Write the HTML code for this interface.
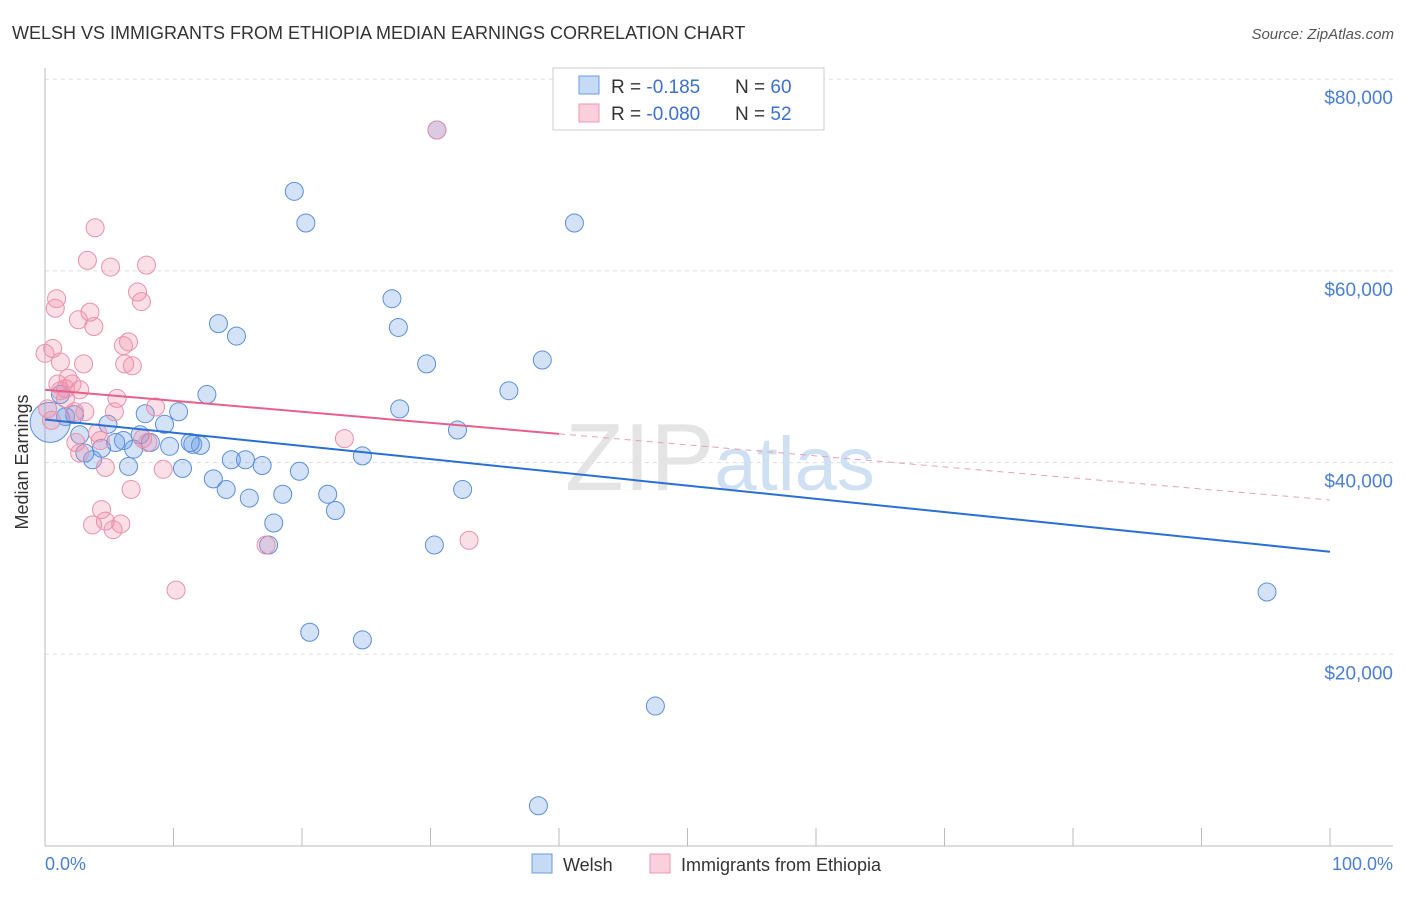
<!DOCTYPE html>
<html><head><meta charset="utf-8"><style>
body{margin:0;background:#fff;font-family:"Liberation Sans",sans-serif;}
svg text{font-family:"Liberation Sans",sans-serif;}
</style></head><body>
<svg width="1406" height="892" viewBox="0 0 1406 892" xmlns="http://www.w3.org/2000/svg">
<text x="12" y="39" font-size="18" fill="#333">WELSH VS IMMIGRANTS FROM ETHIOPIA MEDIAN EARNINGS CORRELATION CHART</text>
<text x="1394" y="39" font-size="15" fill="#555" text-anchor="end" font-style="italic">Source: ZipAtlas.com</text>
<g id="grid"></g>
<text x="720" y="490" font-size="96" fill="#e4e4e4" text-anchor="middle" font-family="Liberation Serif">ZIP<tspan fill="#cfe0f3" font-family="Liberation Sans" font-size="76">atlas</tspan></text>
<line x1="45" y1="68" x2="45" y2="846" stroke="#bbb"/>
<line x1="45" y1="846" x2="1393" y2="846" stroke="#bbb"/>
<g id="ticks"></g>
<text x="22" y="456" font-size="18" fill="#333" text-anchor="middle" transform="rotate(-90 28 456)">Median Earnings</text>
<text x="45" y="870" font-size="18" fill="#4a7fd6">0.0%</text>
<text x="1393" y="870" font-size="18" fill="#4a7fd6" text-anchor="end">100.0%</text>
<g id="pts"></g>
<g id="lines"></g>
<g>
<rect x="553" y="68" width="271" height="62" fill="#fff" stroke="#ccc"/>
<rect x="579" y="76" width="20" height="18" fill="#c5dbf5" stroke="#6b9be0"/>
<rect x="579" y="104" width="20" height="18" fill="#fbd0dc" stroke="#eb98b2"/>
<text x="611" y="93" font-size="19" fill="#333">R = <tspan fill="#3a70d0"> -0.185</tspan><tspan x="735">N = </tspan><tspan fill="#3a70d0">60</tspan></text>
<text x="611" y="120" font-size="19" fill="#333">R = <tspan fill="#3a70d0">-0.080</tspan><tspan x="735">N = </tspan><tspan fill="#3a70d0"> 52</tspan></text>
</g>
<g>
<rect x="532" y="854" width="20" height="19" fill="#c5dbf5" stroke="#6b9be0"/>
<text x="563" y="871" font-size="18" fill="#333">Welsh</text>
<rect x="650" y="854" width="20" height="19" fill="#fbd0dc" stroke="#eb98b2"/>
<text x="681" y="871" font-size="18" fill="#333">Immigrants from Ethiopia</text>
</g>
</svg>
<script>
const yTicks=[20000,40000,60000,80000];
const yTickLabels=["$20,000","$40,000","$60,000","$80,000"];
const welshX=[30.5,19.4,20.3,41.2,13.5,14.9,27.0,27.5,38.7,29.7,36.1,12.6,27.6,32.1,10.4,7.8,9.3,4.9,1.2,1.6,2.3,0.4,2.7,6.1,7.4,8.2,4.4,3.7,11.5,12.1,11.3,9.7,6.9,14.5,15.6,24.7,16.9,19.8,10.7,6.5,13.1,14.1,15.9,18.5,22.0,22.6,32.5,17.8,17.4,30.3,20.6,24.7,95.1,47.5,38.4,3.1,5.5];
const welshY=[74700,68300,65000,65000,54500,53200,57100,54100,50700,50300,47500,47100,45600,43400,45300,45100,44000,44000,47100,44800,45000,44200,42900,42300,42900,42100,41500,40300,41900,41800,42100,41700,41400,40300,40300,40700,39700,39100,39400,39600,38300,37200,36300,36700,36700,35000,37200,33700,31400,31400,22300,21500,26500,14600,4200,41000,42100];
const ethX=[30.5,3.9,3.3,5.1,7.9,0.9,0.8,7.2,7.5,3.5,2.6,3.8,6.5,6.1,0.6,1.2,6.2,6.8,3.0,1.8,2.1,1.2,1.6,0.2,3.1,2.3,5.6,8.6,0.5,4.1,5.4,7.6,2.4,2.7,4.7,9.2,6.7,4.4,3.7,4.7,5.9,5.3,8.0,17.2,33.0,10.2,23.3,0,1.6,2.7,4.3,1.0];
const ethY=[74700,64500,61100,60400,60600,57100,56100,57800,56800,55700,54900,54200,52600,52200,51900,50500,50300,50100,50300,48800,48200,47500,47700,45600,45300,45300,46700,45800,44400,43100,45300,42500,42100,41000,39500,39300,37200,35100,33500,33900,33600,33000,42100,31400,31900,26700,42500,51400,46700,47600,42300,48200];
const welshLine=[44500,30700];
const ethLine=[47600,43000,36100];
const NS="http://www.w3.org/2000/svg";
const X=p=>45+p/100*1285;
const Y=v=>846-v/20000*191.7;
function mk(tag,attrs,parent){const e=document.createElementNS(NS,tag);for(const k in attrs)e.setAttribute(k,attrs[k]);document.getElementById(parent).appendChild(e);return e;}
yTicks.forEach((v,i)=>{
 const l=mk('line',{x1:45,x2:1393,y1:Y(v),y2:Y(v),stroke:'#ddd','stroke-dasharray':'4 4'},'grid');
 
 
 const t=mk('text',{x:1393,y:Y(v)+25,'font-size':19,fill:'#4a7fd6','text-anchor':'end'},'grid');
 t.textContent=yTickLabels[i];
 
 
});
for(let i=0;i<=10;i++){
 const l=mk('line',{x1:X(i*10),x2:X(i*10),y1:828,y2:846,stroke:'#bbb'},'ticks');
 
 
}
welshX.forEach((x,i)=>{
 const c=mk('circle',{cx:X(x),cy:Y(welshY[i]),r:(i==21?20:9),fill:'rgba(110,160,230,0.3)',stroke:'#5b8fd9','stroke-width':1},'pts');
 
 
});
ethX.forEach((x,i)=>{
 const c=mk('circle',{cx:X(x),cy:Y(ethY[i]),r:9,fill:'rgba(240,140,170,0.28)',stroke:'#e891ad','stroke-width':1},'pts');
 
 
});
const bl=mk('line',{x1:X(0),y1:Y(welshLine[0]),x2:X(100),y2:Y(welshLine[1]),stroke:'#2a6fd6','stroke-width':2},'lines');


const pl=mk('line',{x1:X(0),y1:Y(ethLine[0]),x2:X(40),y2:Y(ethLine[1]),stroke:'#e8608a','stroke-width':2},'lines');


const pd=mk('line',{x1:X(40),y1:Y(ethLine[1]),x2:X(100),y2:Y(ethLine[2]),stroke:'#e8a0b8','stroke-width':1,'stroke-dasharray':'6 5'},'lines');


</script>
</body></html>
